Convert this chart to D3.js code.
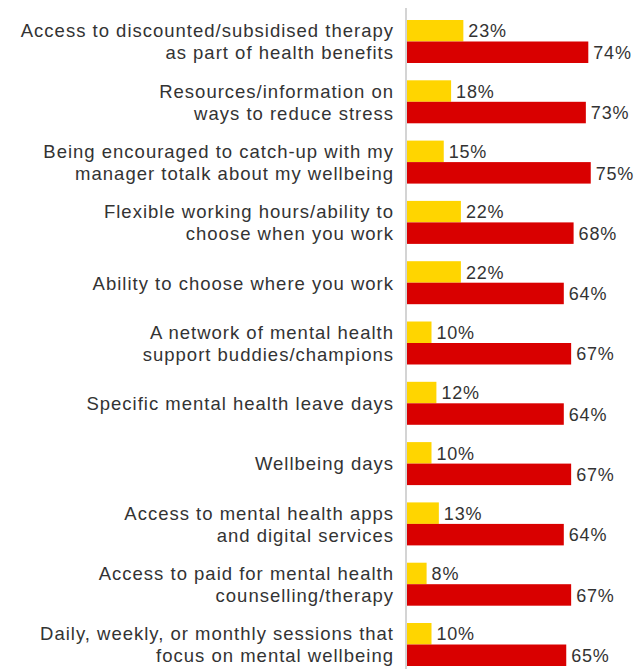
<!DOCTYPE html>
<html>
<head>
<meta charset="utf-8">
<script src="https://cdn.jsdelivr.net/npm/d3@7"></script>
<style>
  html, body { margin: 0; padding: 0; background: #fff; }
  text { font-family: "Liberation Sans", Arial, Helvetica, sans-serif; fill: #333; }
</style>
</head>
<body>
<div id="chart"></div>
<script>
const categories = [
  "Access to discounted/subsidised therapy\nas part of health benefits",
  "Resources/information on\nways to reduce stress",
  "Being encouraged to catch-up with my\nmanager totalk about my wellbeing",
  "Flexible working hours/ability to\nchoose when you work",
  "Ability to choose where you work",
  "A network of mental health\nsupport buddies/champions",
  "Specific mental health leave days",
  "Wellbeing days",
  "Access to mental health apps\nand digital services",
  "Access to paid for mental health\ncounselling/therapy",
  "Daily, weekly, or monthly sessions that\nfocus on mental wellbeing"
];
const yellowValues = [23, 18, 15, 22, 22, 10, 12, 10, 13, 8, 10];
const redValues = [74, 73, 75, 68, 64, 67, 64, 67, 64, 67, 65];
const series = ["yellow", "red"];
const colors = { yellow: "#FFD500", red: "#D90000" };

const width = 635, height = 669;

const svg = d3.select("#chart")
  .append("svg")
  .attr("width", width)
  .attr("height", height);

// outer band per category, inner band per series
const y = d3.scaleBand()
  .domain(categories)
  .range([20, 666])
  .paddingInner(0.287)
  .paddingOuter(0);

const yInner = d3.scaleBand()
  .domain(series)
  .range([0, y.bandwidth()])
  .padding(0);

const x = d3.scaleLinear()
  .domain([0, 100])
  .range([407, 652]);

const data = [];
categories.forEach((c, i) => {
  data.push({ cat: c, s: "yellow", v: yellowValues[i] });
  data.push({ cat: c, s: "red", v: redValues[i] });
});

// axis line
svg.append("line")
  .attr("x1", 406).attr("x2", 406)
  .attr("y1", 8).attr("y2", height)
  .attr("stroke", "#d4d4d4")
  .attr("stroke-width", 2);

svg.selectAll(".bar")
  .data(data)
  .enter()
  .append("rect")
  .attr("class", "bar")
  .attr("x", x(0))
  .attr("y", d => y(d.cat) + yInner(d.s))
  .attr("width", d => x(d.v) - x(0))
  .attr("height", yInner.bandwidth())
  .attr("fill", d => colors[d.s]);

svg.selectAll(".val")
  .data(data)
  .enter()
  .append("text")
  .attr("class", "val")
  .attr("x", d => x(d.v) + 5)
  .attr("y", d => y(d.cat) + yInner(d.s) + yInner.bandwidth() / 2)
  .attr("dy", "0.37em")
  .style("font-size", "18px")
  .style("letter-spacing", "0.8px")
  .text(d => d.v + "%");

// category labels
const labels = svg.selectAll(".label")
  .data(categories)
  .enter()
  .append("text")
  .attr("class", "label")
  .attr("text-anchor", "end")
  .style("font-size", "18.5px")
  .style("letter-spacing", "1px");

labels.each(function (c) {
  const lines = c.split("\n");
  const cy = y(c) + y.bandwidth() / 2;
  const t = d3.select(this);
  lines.forEach((ln, i) => {
    t.append("tspan")
      .attr("x", 394)
      .attr("y", cy + (i - (lines.length - 1) / 2) * 22)
      .attr("dy", "0.37em")
      .text(ln);
  });
});
</script>
</body>
</html>
